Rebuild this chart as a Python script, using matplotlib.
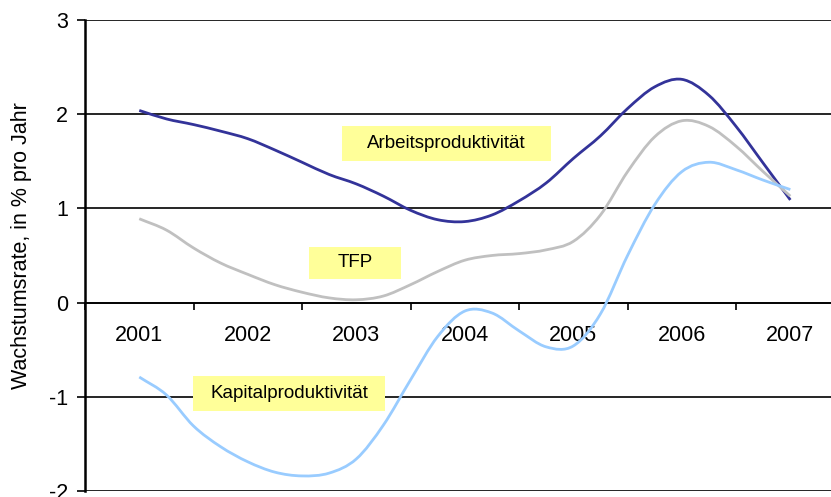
import numpy as np
import matplotlib
matplotlib.use("Agg")
import matplotlib.pyplot as plt
from matplotlib.path import Path
from matplotlib.patches import PathPatch, Rectangle

plt.rcParams['font.family'] = ['Liberation Sans', 'DejaVu Sans']

years = ['2001', '2002', '2003', '2004', '2005', '2006', '2007']
# quarterly readings, first point at 2001, last at 2007
t = np.arange(25) / 4.0
arbeit = [2.04, 1.95, 1.89, 1.82, 1.74, 1.62, 1.49, 1.36, 1.26, 1.13, 0.98, 0.88,
          0.86, 0.93, 1.08, 1.27, 1.53, 1.77, 2.06, 2.29, 2.37, 2.20, 1.87, 1.48, 1.09]
tfp = [0.89, 0.77, 0.58, 0.42, 0.30, 0.19, 0.11, 0.05, 0.03, 0.07, 0.19, 0.33,
       0.45, 0.50, 0.52, 0.56, 0.65, 0.93, 1.39, 1.76, 1.93, 1.87, 1.66, 1.39, 1.13]
kapital = [-0.79, -0.98, -1.31, -1.53, -1.69, -1.80, -1.84, -1.81, -1.66, -1.30, -0.82, -0.36,
           -0.09, -0.11, -0.30, -0.47, -0.46, -0.12, 0.50, 1.04, 1.39, 1.49, 1.41, 1.30, 1.20]

series = [
    (arbeit, '#333399'),
    (tfp, '#C0C0C0'),
    (kapital, '#99CCFF'),
]

# label boxes: text, x0, x1, y0, y1 (data units)
boxes = [
    ('Arbeitsproduktivität', 1.87, 3.79, 1.507, 1.879),
    ('TFP', 1.565, 2.41, 0.255, 0.594),
    ('Kapitalproduktivität', 0.497, 2.265, -1.146, -0.775),
]


def smooth_path(x, y):
    # Catmull-Rom style smoothing drawn as cubic bezier segments
    pts = np.column_stack([x, y])
    n = len(pts)
    ext = np.vstack([2 * pts[0] - pts[1], pts, 2 * pts[-1] - pts[-2]])
    verts = [pts[0]]
    codes = [Path.MOVETO]
    for i in range(n - 1):
        p0, p1, p2, p3 = ext[i], ext[i + 1], ext[i + 2], ext[i + 3]
        c1 = p1 + (p2 - p0) / 6.0
        c2 = p2 - (p3 - p1) / 6.0
        verts += [c1, c2, p2]
        codes += [Path.CURVE4] * 3
    return Path(verts, codes)


fig = plt.figure(figsize=(8.31, 4.97), dpi=100)
ax = fig.add_axes([85 / 831, 6 / 497, 759.6 / 831, 471 / 497])
ax.set_xlim(-0.5, 6.5)
ax.set_ylim(-2, 3)

for s in ['top', 'right']:
    ax.spines[s].set_visible(False)
ax.spines['left'].set_linewidth(1.8)
ax.spines['bottom'].set_position(('data', 0))
ax.spines['bottom'].set_linewidth(1.2)

ax.set_yticks([-2, -1, 0, 1, 2, 3])
ax.set_yticklabels(['-2', '-1', '0', '1', '2', '3'])
ax.yaxis.grid(True, color='black', linewidth=1.2)
ax.set_axisbelow(True)
ax.tick_params(axis='y', direction='out', length=6, width=1.2, pad=6, labelsize=15.5)

ax.set_xticks(np.arange(-0.5, 7.0, 1.0))
ax.set_xticklabels([])
ax.set_xticks(np.arange(len(years)), minor=True)
ax.set_xticklabels(years, minor=True)
ax.tick_params(axis='x', which='major', direction='out', length=5, width=1.2)
ax.tick_params(axis='x', which='minor', length=0, pad=16, labelsize=15.5)

for text, x0, x1, y0, y1 in boxes:
    ax.add_patch(Rectangle((x0, y0), x1 - x0, y1 - y0, facecolor='#FFFF99',
                           edgecolor='none', zorder=3))
    ax.text((x0 + x1) / 2, (y0 + y1) / 2, text, ha='center', va='center',
            fontsize=13.5, zorder=4)

for vals, col in series:
    ax.add_patch(PathPatch(smooth_path(t, vals), facecolor='none', edgecolor=col,
                           linewidth=2.0, capstyle='butt', zorder=5))

fig.text(22 / 831, 1 - 246 / 497, 'Wachstumsrate, in % pro Jahr', rotation=90,
         ha='center', va='center', fontsize=15.5)

fig.savefig('out.png', dpi=100)
